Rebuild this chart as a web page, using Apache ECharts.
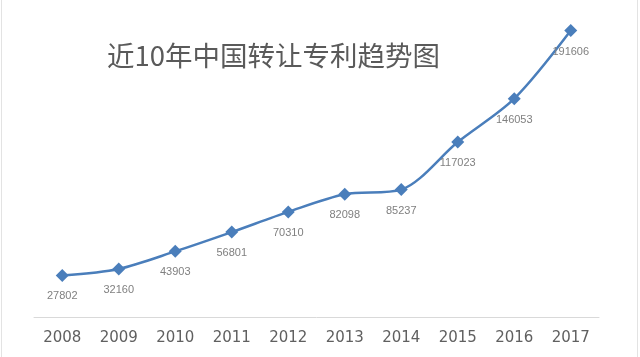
<!DOCTYPE html>
<html>
<head>
<meta charset="utf-8">
<script src="https://cdn.jsdelivr.net/npm/echarts@6/dist/echarts.min.js"></script>
<style>html,body{margin:0;padding:0;background:#fff}#c{width:640px;height:357px}</style>
</head>
<body>
<div id="c"></div>
<script>
var titleText = '近10年中国转让专利趋势图';
var years = ['2008','2009','2010','2011','2012','2013','2014','2015','2016','2017'];
var transfers = [27802, 32160, 43903, 56801, 70310, 82098, 85237, 117023, 146053, 191606];

var chart = echarts.init(document.getElementById('c'), null, {renderer: 'canvas'});
chart.setOption({
  backgroundColor: '#ffffff',
  animation: false,
  title: {
    text: titleText,
    left: 102,
    top: 37,
    textStyle: {
      fontFamily: 'Noto Sans CJK SC',
      fontSize: 27.5,
      fontWeight: 'normal',
      color: '#5a5a5a'
    }
  },
  graphic: [{
    type: 'rect',
    shape: {x: 1.5, y: -2, width: 636, height: 362},
    style: {fill: 'none', stroke: '#e3e3e3', lineWidth: 1},
    silent: true
  }],
  grid: {left: 34, right: 41, top: 18, bottom: 40},
  xAxis: {
    type: 'category',
    data: years,
    boundaryGap: true,
    axisLine: {lineStyle: {color: '#d9d9d9', width: 1}},
    axisTick: {show: false},
    axisLabel: {
      margin: 14,
      fontFamily: 'DejaVu Sans',
      fontSize: 15,
      color: '#606060'
    }
  },
  yAxis: {
    type: 'value',
    min: 0,
    max: 200000,
    show: false,
    splitLine: {show: false}
  },
  series: [{
    type: 'line',
    data: transfers,
    smooth: 0.3,
    symbol: 'diamond',
    symbolSize: 13,
    lineStyle: {color: '#4a7ebb', width: 2.5},
    itemStyle: {color: '#4a7ebb'},
    label: {
      show: true,
      position: 'bottom',
      distance: 9,
      fontFamily: 'Liberation Sans',
      fontSize: 11,
      color: '#808080'
    }
  }]
});
</script>
</body>
</html>
